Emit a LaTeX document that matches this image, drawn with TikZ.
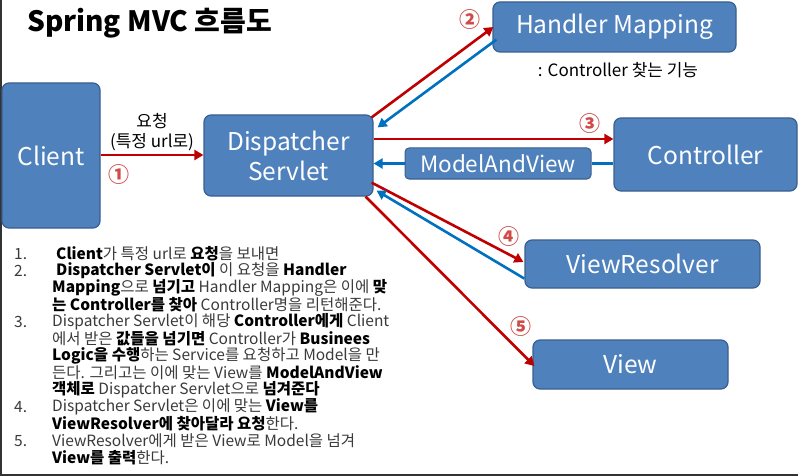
\documentclass[tikz,border=0pt]{standalone}
\usepackage{fontspec}
\setmainfont{Noto Sans CJK KR}
\usetikzlibrary{arrows.meta,calc}
\definecolor{boxfill}{HTML}{4F81BD}
\definecolor{boxline}{HTML}{3A5F8F}
\definecolor{redar}{HTML}{C00000}
\definecolor{bluear}{HTML}{0070C0}
\definecolor{numred}{HTML}{D04A4A}
\definecolor{txtgray}{HTML}{3A3A3A}
\tikzset{
  box/.style={draw=boxline, line width=1.2pt, fill=boxfill, rounded corners=7pt, text=white, font=\fontsize{24.5}{30}\selectfont, align=center, inner sep=0pt},
  redarrow/.style={draw=redar, line width=2.6pt, -{Triangle[length=9pt,width=10pt]}},
  bluearrow/.style={draw=bluear, line width=2.6pt, -{Triangle[length=9pt,width=10pt]}},
  blueline/.style={draw=bluear, line width=2.6pt},
  num/.style={text=numred, font=\fontsize{21}{21}\selectfont\bfseries, inner sep=0pt},
  small/.style={font=\fontsize{17}{18}\selectfont, inner sep=0pt, text=black},
  lst/.style={anchor=west, inner sep=0pt, text=txtgray, font=\fontsize{15.5}{17}\selectfont},
  lnum/.style={anchor=west, inner sep=0pt, text=txtgray, font=\fontsize{15.5}{17}\selectfont}
}
\newcommand{\B}[1]{\textbf{\color{black}#1}}
\begin{document}
\begin{tikzpicture}[x=1pt,y=-1pt]
\useasboundingbox (0,0) rectangle (798,476);
\fill[white] (0,0) rectangle (798,476);
\draw[line width=2pt, black!80] (1,0) -- (1,476);
\draw[line width=2pt, black!80] (0,475) -- (798,475);

\node[anchor=west, inner sep=0pt, font=\fontsize{28}{30}\selectfont\bfseries] (title) at (27,23) {Spring MVC 흐름도};

\node[box, minimum width=98pt, minimum height=145pt] (client) at (51,155.5) {Client};
\node[box, minimum width=169pt, minimum height=81pt] (disp) at (288.5,155.5) {Dispatcher\\Servlet};
\node[box, minimum width=243pt, minimum height=50pt] (hm) at (614.5,27) {Handler Mapping};
\node[box, minimum width=183pt, minimum height=73pt] (ctrl) at (705.5,154.5) {Controller};
\node[box, minimum width=186pt, minimum height=31pt, line width=1pt, rounded corners=4pt, font=\fontsize{22.5}{24}\selectfont] (mav) at (498,163.5) {ModelAndView};
\node[box, minimum width=235pt, minimum height=48pt] (vr) at (642.5,264) {ViewResolver};
\node[box, minimum width=195pt, minimum height=49pt] (view) at (630.5,364.5) {View};

\node[small] (hmlbl) at (618,70) {: Controller 찾는 기능};
\node[small, align=center, font=\fontsize{17}{20}\selectfont] (req) at (152,132) {요청\\(특정 url로)};

% arrows
\draw[redarrow] (client.east |- 0,155) -- (disp.west |- 0,155);
\draw[redarrow] ($(disp.north east)+(-2,3)$) -- ($(hm.west)+(1,0)$);
\draw[bluearrow] ($(hm.south west)+(4,-13)$) -- ($(disp.north east)+(4,13)$);
\draw[redarrow] ($(disp.east)+(0,-16.5)$) -- ($(ctrl.west)+(0,-15.5)$);
\draw[blueline] (ctrl.west |- mav.east) -- (mav.east);
\draw[bluearrow] (mav.west) -- (disp.east |- mav.west);
\draw[redarrow] ($(disp.south east)+(-2,-14)$) -- ($(vr.west)+(-1,-2)$);
\draw[bluearrow] ($(vr.south west)+(0,-10)$) -- ($(disp.south east)+(3,-6)$);
\draw[redarrow] ($(disp.south east)+(-8,0)$) -- ($(view.west)+(2,1.5)$);

\node[num] (n1) at (119,175) {①};
\node[num] (n2) at (470,20) {②};
\node[num] (n3) at (590,124) {③};
\node[num] (n4) at (509,237) {④};
\node[num] (n5) at (521,327) {⑤};

% list
\node[lnum] (l1n) at (14,254) {1.};
\node[lnum] (l2n) at (14,271) {2.};
\node[lnum] (l3n) at (14,322) {3.};
\node[lnum] (l4n) at (14,407) {4.};
\node[lnum] (l5n) at (14,441) {5.};
\node[lst] (t1) at (56,254) {\B{Client}가 특정 url로 \B{요청}을 보내면};
\node[lst] (t2) at (56,271) {\B{Dispatcher Servlet이} 이 요청을 \B{Handler}};
\node[lst] (t3) at (52,288) {\B{Mapping}으로 \B{넘기고} Handler Mapping은 이에 \B{맞}};
\node[lst] (t4) at (52,305) {\B{는 Controller를 찾아} Controller명을 리턴해준다.};
\node[lst] (t5) at (52,322) {Dispatcher Servlet이 해당 \B{Controller에게} Client};
\node[lst] (t6) at (52,339) {에서 받은 \B{값들을 넘기면} Controller가 \B{Businees}};
\node[lst] (t7) at (52,356) {\B{Logic을 수행}하는 Service를 요청하고 Model을 만};
\node[lst] (t8) at (52,373) {든다. 그리고는 이에 맞는 View를 \B{ModelAndView}};
\node[lst] (t9) at (52,390) {\B{객체로} Dispatcher Servlet으로 \B{넘겨준다}};
\node[lst] (t10) at (52,407) {Dispatcher Servlet은 이에 맞는 \B{View를}};
\node[lst] (t11) at (52,424) {\B{ViewResolver에 찾아달라 요청}한다.};
\node[lst] (t12) at (52,441) {ViewResolver에게 받은 View로 Model을 넘겨};
\node[lst] (t13) at (52,458) {\B{View를 출력}한다.};
\end{tikzpicture}
\end{document}
